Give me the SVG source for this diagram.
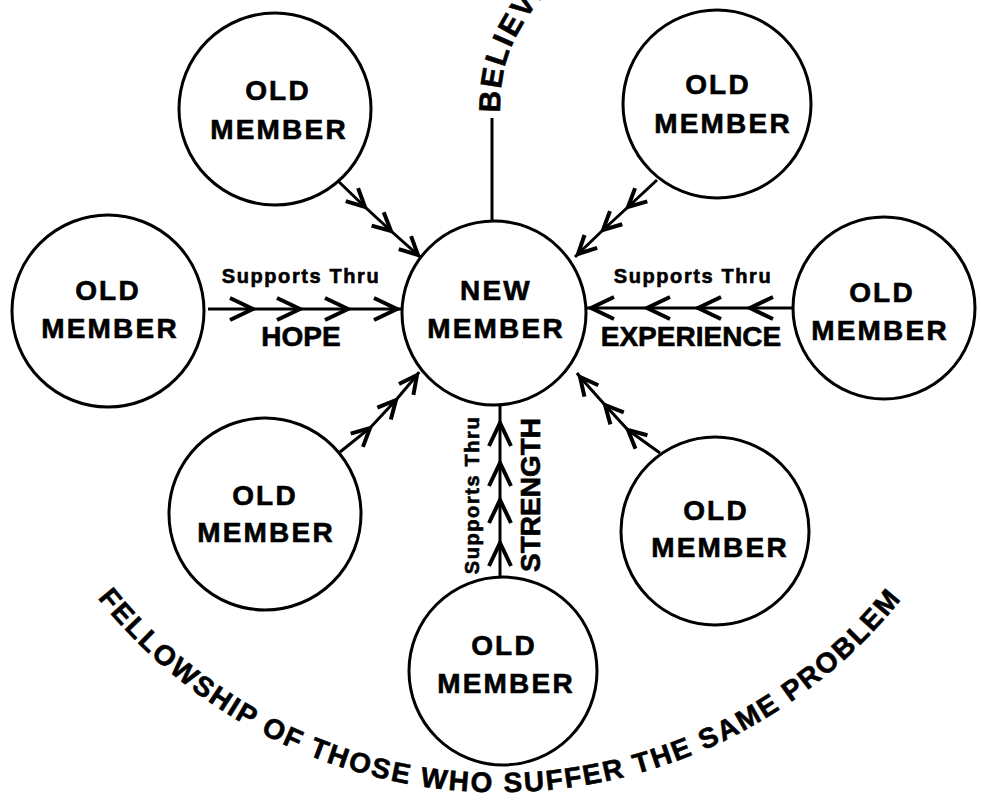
<svg xmlns="http://www.w3.org/2000/svg" width="981" height="800" viewBox="0 0 981 800">
<style>
.c{fill:#fff;stroke:#000;stroke-width:3}
.t{font-family:"Liberation Sans",Arial,sans-serif;font-weight:bold;fill:#000;stroke:#000;stroke-width:0.6}
.n{font-size:28px;letter-spacing:2.2px;text-anchor:middle}
.s{font-size:20px;letter-spacing:1.6px;text-anchor:middle}
.l{font-size:28px;text-anchor:middle}
.big{fill:none;stroke:#000;stroke-width:3;marker-mid:url(#chevB)}
.sm{fill:none;stroke:#000;stroke-width:3;marker-mid:url(#chevS)}
</style>
<defs>
<marker id="chevB" markerUnits="userSpaceOnUse" orient="auto" overflow="visible" markerWidth="1" markerHeight="1" refX="0" refY="0">
<path d="M-23,-11 L0,0 L-23,11" fill="none" stroke="#000" stroke-width="4"/>
</marker>
<marker id="chevS" markerUnits="userSpaceOnUse" orient="auto" overflow="visible" markerWidth="1" markerHeight="1" refX="0" refY="0">
<path d="M-18,-9 L0,0 L-18,9" fill="none" stroke="#000" stroke-width="4"/>
</marker>
<path id="belPath" d="M500,113 C500,62 512,28 562,-25"/>
<path id="arcPath" d="M96,596 A514,514 0 0 0 904,596"/>
</defs>
<rect width="981" height="800" fill="#fff"/>
<g id="connectors">
<line x1="492" y1="118" x2="492" y2="222" stroke="#000" stroke-width="3"/>
<polyline class="big" points="208,309 253,309 300,309 348,309 397,309 401,309"/>
<polyline class="big" points="793,308 750,308 698,308 647,308 591,308 587,308"/>
<polyline class="big" points="500,576 500,543 500,500 500,463 500,423 500,405"/>
<polyline class="sm" points="337,180 365,207 391,231 418,255 421,258"/>
<polyline class="sm" points="657,180 628,207 603,230 578,254 575,257"/>
<polyline class="sm" points="340,452 370,428 396,400 417,375 419,372"/>
<polyline class="sm" points="660,453 628,430 605,405 580,377 577,373"/>
</g>
<g id="labels">
<text class="t s" x="301" y="283">Supports Thru</text>
<text class="t l" x="301" y="346">HOPE</text>
<text class="t s" x="693" y="283">Supports Thru</text>
<text class="t l" x="691" y="346">EXPERIENCE</text>
<text class="t s" transform="translate(479,495) rotate(-90)" x="0" y="0">Supports Thru</text>
<text class="t l" transform="translate(540,495) rotate(-90)" x="0" y="0">STRENGTH</text>
<text class="t" font-size="30" letter-spacing="2"><textPath href="#belPath">BELIEVE</textPath></text>
<text class="t" font-size="28" letter-spacing="2"><textPath href="#arcPath" startOffset="50%" text-anchor="middle">FELLOWSHIP OF THOSE WHO SUFFER THE SAME PROBLEM</textPath></text>
</g>
<g id="new-member">
<circle class="c" cx="494" cy="313" r="92"/>
<text class="t n" x="496" y="300">NEW</text>
<text class="t n" x="496" y="338">MEMBER</text>
</g>
<g id="old-top-left">
<circle class="c" cx="275" cy="109" r="96"/>
<text class="t n" x="278" y="100">OLD</text>
<text class="t n" x="279" y="139">MEMBER</text>
</g>
<g id="old-top-right">
<circle class="c" cx="717" cy="104" r="94"/>
<text class="t n" x="718" y="94">OLD</text>
<text class="t n" x="723" y="133">MEMBER</text>
</g>
<g id="old-left">
<circle class="c" cx="108" cy="311" r="96"/>
<text class="t n" x="108" y="300">OLD</text>
<text class="t n" x="110" y="338">MEMBER</text>
</g>
<g id="old-right">
<circle class="c" cx="884" cy="308" r="91"/>
<text class="t n" x="882" y="302">OLD</text>
<text class="t n" x="880" y="340">MEMBER</text>
</g>
<g id="old-bottom-left">
<circle class="c" cx="265" cy="514" r="96"/>
<text class="t n" x="265" y="505">OLD</text>
<text class="t n" x="266" y="542">MEMBER</text>
</g>
<g id="old-bottom-right">
<circle class="c" cx="715" cy="531" r="94"/>
<text class="t n" x="716" y="520">OLD</text>
<text class="t n" x="720" y="557">MEMBER</text>
</g>
<g id="old-bottom">
<circle class="c" cx="503" cy="671" r="94"/>
<text class="t n" x="504" y="655">OLD</text>
<text class="t n" x="506" y="693">MEMBER</text>
</g>
</svg>
